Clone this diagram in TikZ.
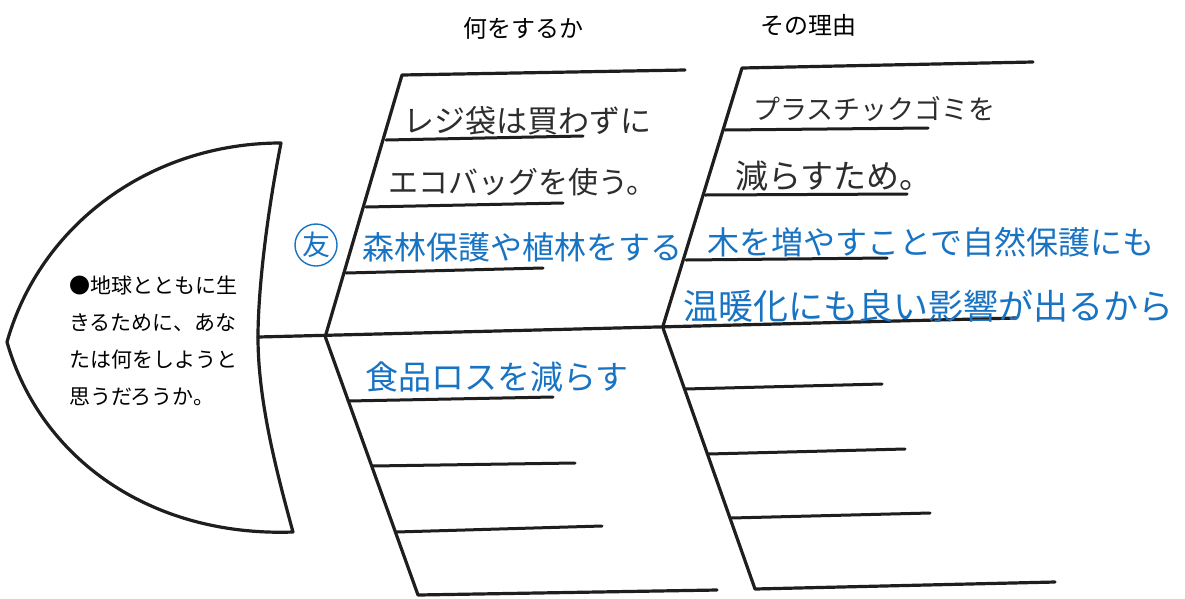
\documentclass[tikz,border=0pt]{standalone}
\usepackage{fontspec}
\setmainfont{Noto Sans CJK JP}
\definecolor{ink}{RGB}{30,30,30}
\definecolor{pen}{RGB}{45,45,45}
\definecolor{bluepen}{RGB}{25,115,195}
\tikzset{
  bone/.style={draw=ink, line width=3.2pt, line join=round, line cap=round},
  rib/.style={draw=ink, line width=3pt, line cap=round},
  header/.style={inner sep=0pt, font=\fontsize{24}{28}\selectfont, text=black},
  printed/.style={inner sep=0pt, align=left, font=\fontsize{21}{37}\selectfont, text=black},
  hwblack/.style={inner sep=0pt, anchor=west, text=pen},
  hwblue/.style={inner sep=0pt, anchor=west, text=bluepen},
}
\begin{document}
\begin{tikzpicture}[x=1pt,y=-1pt]
\useasboundingbox (0,0) rectangle (1185,598);
\fill[white] (0,0) rectangle (1185,598);

% head
\draw[bone] (7,342) .. controls (40,225) and (150,143) .. (281,143)
  .. controls (264,230) and (258,300) .. (258,337)
  .. controls (258,400) and (276,470) .. (293,532)
  .. controls (150,537) and (40,458) .. (7,342);

% spine
\draw[bone] (258,337) -- (1016,318);

% upper bone 1
\draw[bone] (326,334) -- (402,75) -- (685,70);
\draw[rib] (386,140) -- (583,136);
\draw[rib] (366,207) -- (563,203);
\draw[rib] (346,273) -- (543,268);
% upper bone 2
\draw[bone] (663,326) -- (742,68) -- (1033,62);
\draw[rib] (725,130) -- (928,128);
\draw[rib] (705,195) -- (907,194);
\draw[rib] (686,260) -- (887,258);
% lower bone 1
\draw[bone] (325,336) -- (418,595) -- (717,590);
\draw[rib] (348,401) -- (553,397);
\draw[rib] (372,466) -- (575,463);
\draw[rib] (396,532) -- (602,526);
% lower bone 2
\draw[bone] (663,328) -- (755,589) -- (1055,582);
\draw[rib] (685,389) -- (882,384);
\draw[rib] (708,454) -- (905,449);
\draw[rib] (731,518) -- (930,513);

% headers
\node[header] (h1) at (523,28) {何をするか};
\node[header] (h2) at (808,25) {その理由};

% head text
\node[printed, anchor=north west] (q) at (69,276) {●地球とともに生\\きるために、あな\\たは何をしようと\\思うだろうか。};

% handwritten black
\node[hwblack, font=\fontsize{31}{34}\selectfont] (a1) at (403,121) {レジ袋は買わずに};
\node[hwblack, font=\fontsize{30}{34}\selectfont] (a2) at (388,182) {エコバッグを使う。};
\node[hwblack, font=\fontsize{27}{30}\selectfont] (r1) at (753,109) {プラスチックゴミを};
\node[hwblack, font=\fontsize{33}{36}\selectfont] (r2) at (735,176) {減らすため。};

% handwritten blue
\node[draw=bluepen, line width=1.4pt, circle, minimum size=42pt, inner sep=0pt,
      text=bluepen, font=\fontsize{28}{30}\selectfont] (tomo) at (316,245) {友};
\node[hwblue, font=\fontsize{32}{35}\selectfont] (a3) at (362,247) {森林保護や植林をする};
\node[hwblue, font=\fontsize{32}{35}\selectfont] (r3) at (707,242) {木を増やすことで自然保護にも};
\node[hwblue, font=\fontsize{35}{38}\selectfont] (r4) at (683,306) {温暖化にも良い影響が出るから};
\node[hwblue, font=\fontsize{33}{36}\selectfont] (a4) at (365,377) {食品ロスを減らす};
\end{tikzpicture}
\end{document}
